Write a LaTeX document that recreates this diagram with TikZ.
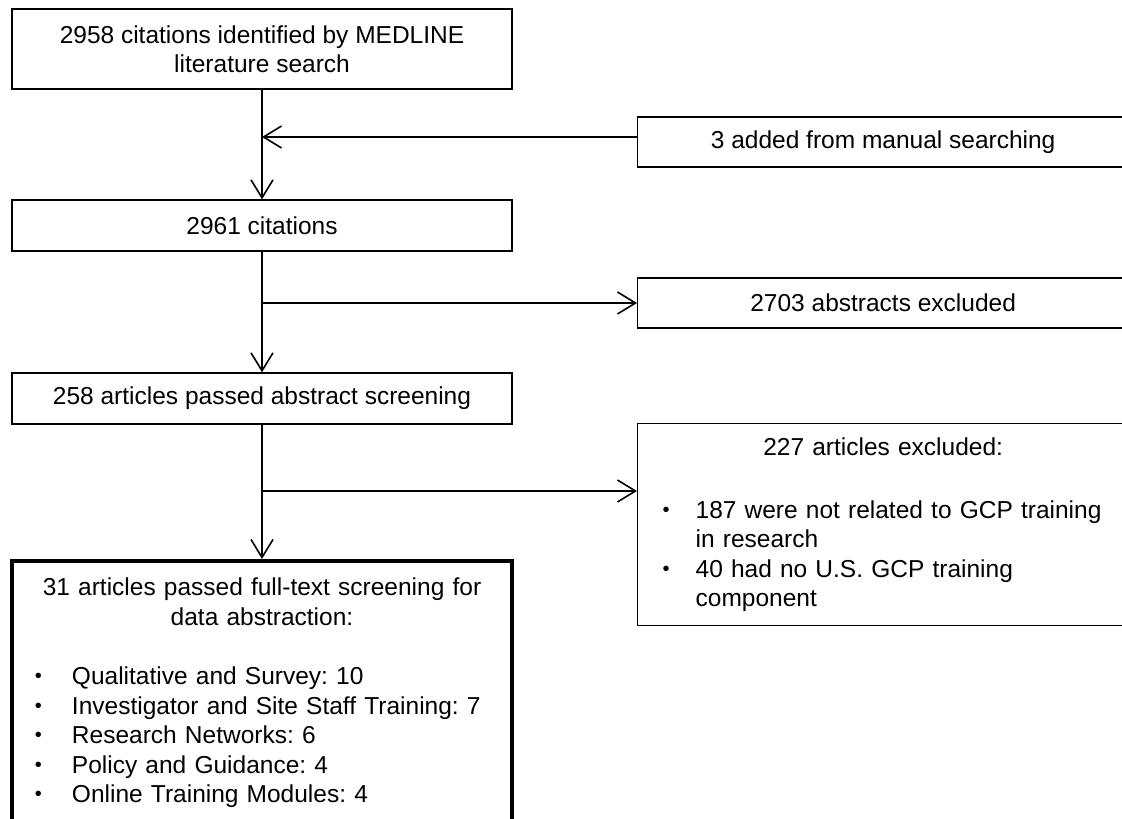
\documentclass[tikz,border=0pt]{standalone}
\usepackage{fontspec}
\setmainfont{Liberation Sans}
\frenchspacing
\usetikzlibrary{arrows.meta,positioning}
\tikzset{
	stage/.style={draw, rectangle, line width=1.3pt, inner xsep=10pt, inner ysep=0pt, minimum width=500pt, minimum height=51pt, align=center},
	side/.style={stage, minimum width=491pt, minimum height=50pt},
	flow/.style={line width=1.6pt, -{Straight Barb[length=18pt,width=22pt]}},
}
\newcommand{\dotmark}{\raisebox{1.8pt}{\fontsize{20}{20}\selectfont\textbullet}}
\newcommand{\finitem}{\hspace*{13pt}\makebox[37pt][l]{\dotmark}}
\newcommand{\exitem}{\hspace*{15pt}\makebox[33pt][l]{\dotmark}}
\newcommand{\exrest}{\hspace*{48pt}}

\begin{document}
\begin{tikzpicture}[x=1pt,y=-1pt,font=\fontsize{24.5}{29.5}\selectfont]
	\useasboundingbox (0,0) rectangle (1122,819);
	\node[stage, minimum height=80pt] (search) at (262,49) {2958 citations identified by MEDLINE\\literature search};
	\node[side, anchor=west] (manual) at (637,142) {3 added from manual searching};
	\node[stage] (cit) at (262,225.5) {2961 citations};
	\node[side, anchor=west] (abstr) at (637,303) {2703 abstracts excluded};
	\node[stage] (screen) at (262,398.5) {258 articles passed abstract screening};
	\node[side, anchor=north west, minimum height=202pt, text width=471pt, align=left] (excl) at (637,423) {\vspace*{8pt}{\centering 227 articles excluded:\par}\vspace{25.5pt}
		\exitem 187 were not related to GCP training\\ \exrest in research\\
		\exitem 40 had no U.S. GCP training\\ \exrest component};
	\node[stage, anchor=north, line width=3.5pt, text width=480pt, inner ysep=17pt, align=left] (final) at (262,559) {{\centering 31 articles passed full-text screening for\\data abstraction:\par}\vspace{30pt}
		\finitem Qualitative and Survey: 10\\
		\finitem Investigator and Site Staff Training: 7\\
		\finitem Research Networks: 6\\
		\finitem Policy and Guidance: 4\\
		\finitem Online Training Modules: 4\par\vspace{20pt}};
	\coordinate (join) at (262,137);
	\coordinate (split) at (262,491);
	\draw[flow] (search) -- (cit);
	\draw[flow] (manual.west|-join) -- (join);
	\draw[flow] (cit) -- (screen);
	\draw[flow] (cit.south|-abstr.west) -- (abstr.west);
	\draw[flow] (screen) -- (final);
	\draw[flow] (split) -- (excl.west|-split);
\end{tikzpicture}
\end{document}
